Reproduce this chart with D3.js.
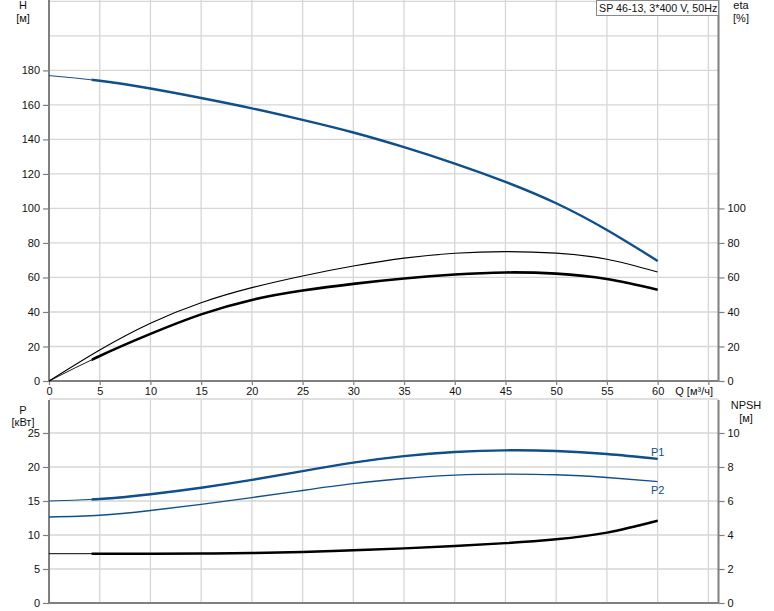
<!DOCTYPE html>
<html>
<head>
<meta charset="utf-8">
<script src="https://cdn.jsdelivr.net/npm/d3@7"></script>
<style>
  html, body { margin: 0; padding: 0; background: #fff; }
  svg { display: block; font-family: "Liberation Sans", Arial, sans-serif; }
</style>
</head>
<body>
<svg id="chart" width="774" height="611"></svg>
<script>
// ---- data ----
const flow = [0, 5, 10, 15, 20, 25, 30, 35, 40, 45, 50, 55, 60];
const head = [177, 174, 169.5, 164, 158, 151.3, 144, 135.5, 126, 115.4, 103, 87.5, 69.6];
const etaPump = [0, 18, 33.5, 45.4, 54.1, 60.9, 66.6, 71.2, 74, 75, 74.1, 70.6, 63.2];
const etaTotal = [0, 14.5, 27.3, 38.6, 47, 52.4, 56.3, 59.4, 61.7, 62.9, 62.2, 59.1, 52.9];
const powerP1 = [15.0, 15.3, 16.0, 16.95, 18.1, 19.4, 20.65, 21.6, 22.2, 22.45, 22.35, 21.9, 21.2];
const powerP2 = [12.65, 12.9, 13.6, 14.5, 15.5, 16.55, 17.55, 18.3, 18.8, 18.95, 18.85, 18.45, 17.85];
const npsh = [2.9, 2.9, 2.9, 2.91, 2.94, 3.0, 3.1, 3.21, 3.35, 3.52, 3.75, 4.14, 4.84];
const thickFrom = 4.2;
const xTicks = [0, 5, 10, 15, 20, 25, 30, 35, 40, 45, 50, 55, 60, 65];
const hTicks = [0, 20, 40, 60, 80, 100, 120, 140, 160, 180];
const etaTicks = [0, 20, 40, 60, 80, 100];
const pTicks = [0, 5, 10, 15, 20, 25];
const npshTicks = [0, 2, 4, 6, 8, 10];
const title = "SP 46-13, 3*400 V, 50Hz";

// ---- layout ----
const svg = d3.select("#chart");
const L = 49, R = 718.5;
const topT = 0, topB = 381, botT = 400, botB = 603;
const blue = "#0f4f8c";
const gridC = "#d6d6d6", axisC = "#7f7f7f";

const x = d3.scaleLinear().domain([0, 66]).range([L, R]);
const yH = d3.scaleLinear().domain([0, 220.8]).range([topB, topT]);
const yEta = d3.scaleLinear().domain([0, 220.8]).range([topB, topT]);
const yP = d3.scaleLinear().domain([0, 29.85]).range([botB, botT]);
const yN = d3.scaleLinear().domain([0, 11.94]).range([botB, botT]);

// clip for thick sections
const defs = svg.append("defs");
defs.append("clipPath").attr("id", "thickClip").append("rect")
  .attr("x", x(thickFrom)).attr("y", 0).attr("width", 800).attr("height", 700);

// ---- grids ----
function grid(yScale, yTicksG, t, b) {
  const g = svg.append("g");
  g.selectAll("line.v").data(xTicks.filter(d => d > 0)).join("line")
    .attr("x1", d => x(d)).attr("x2", d => x(d)).attr("y1", t).attr("y2", b)
    .attr("stroke", gridC).attr("stroke-width", 1.3);
  g.selectAll("line.h").data(yTicksG).join("line")
    .attr("x1", L).attr("x2", R).attr("y1", d => yScale(d)).attr("y2", d => yScale(d))
    .attr("stroke", gridC).attr("stroke-width", 1.3);
}
grid(yH, [20, 40, 60, 80, 100, 120, 140, 160, 180, 200, 220], topT, topB);
grid(yP, [5, 10, 15, 20, 25, 30], botT, botB);

// ---- axes ----
function styleAxis(g) {
  g.select(".domain").remove();
  g.selectAll(".tick line").attr("stroke", axisC).attr("stroke-width", 1.2);
  g.selectAll(".tick text").attr("fill", "#111").style("font-size", "11px")
    .style("font-family", "Liberation Sans, Arial, sans-serif");
}
svg.append("g").attr("transform", `translate(${L},0)`)
  .call(d3.axisLeft(yH).tickValues(hTicks).tickSize(6).tickPadding(3)).call(styleAxis);
svg.append("g").attr("transform", `translate(${R},0)`)
  .call(d3.axisRight(yEta).tickValues(etaTicks).tickSize(6).tickPadding(3)).call(styleAxis);
svg.append("g").attr("transform", `translate(${L},0)`)
  .call(d3.axisLeft(yP).tickValues(pTicks).tickSize(6).tickPadding(3)).call(styleAxis);
svg.append("g").attr("transform", `translate(${R},0)`)
  .call(d3.axisRight(yN).tickValues(npshTicks).tickSize(6).tickPadding(3)).call(styleAxis);
svg.append("g").attr("transform", `translate(0,${topB})`)
  .call(d3.axisBottom(x).tickValues(xTicks).tickSize(4).tickPadding(2)
    .tickFormat(d => d === 65 ? "" : d)).call(styleAxis);

// axis frame lines
[[L, topT, L, topB], [R, topT, R, topB], [L, topB, R, topB],
 [L, botT, L, botB], [R, botT, R, botB], [L, botB, R, botB]].forEach(s => {
  svg.append("line").attr("x1", s[0]).attr("y1", s[1]).attr("x2", s[2]).attr("y2", s[3])
    .attr("stroke", axisC).attr("stroke-width", 2);
});

// ---- curves ----
function curve(vals, yScale, color, thin, thick) {
  const pts = flow.map((q, i) => [q, vals[i]]);
  const line = d3.line().x(d => x(d[0])).y(d => yScale(d[1])).curve(d3.curveNatural);
  svg.append("path").attr("d", line(pts)).attr("fill", "none")
    .attr("stroke", color).attr("stroke-width", thin);
  if (thick) {
    svg.append("path").attr("d", line(pts)).attr("fill", "none")
      .attr("stroke", color).attr("stroke-width", thick).attr("clip-path", "url(#thickClip)");
  }
}
curve(etaPump, yEta, "#000", 1.1, null);
curve(etaTotal, yEta, "#000", 0.9, 2.6);
curve(head, yH, blue, 1, 2.4);
curve(powerP1, yP, blue, 1, 2.4);
curve(powerP2, yP, blue, 1.4, null);
curve(npsh, yN, "#000", 1, 2.4);

// ---- labels ----
function txt(s, xx, yy, anchor, color) {
  svg.append("text").attr("x", xx).attr("y", yy).attr("text-anchor", anchor || "middle")
    .attr("fill", color || "#111").style("font-size", "11px").text(s);
}
txt("H", 23, 9); txt("[м]", 23, 22);
txt("eta", 741, 9); txt("[%]", 741, 22);
txt("P", 23, 414); txt("[кВт]", 23, 426);
txt("NPSH", 746, 409); txt("[м]", 746, 422);
txt("Q [м³/ч]", 713, 395, "end");
txt("P1", x(60), 456, "middle", blue);
txt("P2", x(60), 494, "middle", blue);

// title box
const tb = svg.append("g");
tb.append("rect").attr("x", 596.5).attr("y", 0.5).attr("width", 122).attr("height", 15)
  .attr("fill", "#fff").attr("stroke", "#888").attr("stroke-width", 1);
tb.append("text").attr("x", 599).attr("y", 12).attr("fill", "#111")
  .style("font-size", "10.7px").text(title);
</script>
</body>
</html>
